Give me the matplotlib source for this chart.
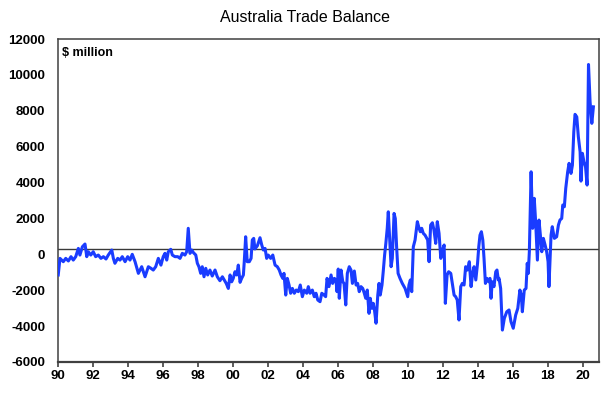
import matplotlib
matplotlib.use("Agg")
import matplotlib.pyplot as plt

# decimal-year time stamps
years = [
 1990.03,1990.13,1990.32,1990.46,1990.61,1990.76,1990.89,1991.03,1991.18,1991.27,1991.41,1991.56,1991.66,1991.75,1991.89,
 1992.03,1992.17,1992.32,1992.47,1992.61,1992.76,1992.89,1993.09,1993.18,1993.27,1993.43,1993.56,1993.69,1993.85,1994.0,
 1994.13,1994.26,1994.42,1994.61,1994.8,1994.99,1995.18,1995.33,1995.46,1995.6,1995.75,1995.9,1996.03,1996.13,1996.23,
 1996.32,1996.46,1996.55,1996.7,1996.86,1996.99,1997.12,1997.27,1997.37,1997.46,1997.56,1997.66,1997.75,1997.89,1997.98,
 1998.07,1998.17,1998.26,1998.36,1998.46,1998.57,1998.7,1998.83,1998.99,1999.12,1999.27,1999.41,1999.52,1999.63,1999.75,
 1999.85,1999.94,2000.03,2000.13,2000.23,2000.32,2000.42,2000.51,2000.61,2000.66,2000.74,2000.83,2000.95,2001.05,2001.12,
 2001.2,2001.27,2001.41,2001.56,2001.66,2001.75,2001.85,2001.94,2002.03,2002.17,2002.29,2002.42,2002.55,2002.66,2002.76,
 2002.86,2002.93,2003.03,2003.12,2003.22,2003.31,2003.41,2003.52,2003.63,2003.75,2003.86,2003.98,2004.09,2004.23,2004.32,
 2004.42,2004.55,2004.66,2004.76,2004.86,2004.99,2005.09,2005.22,2005.31,2005.39,2005.5,2005.62,2005.71,2005.81,2005.9,
 2005.96,2006.03,2006.09,2006.19,2006.29,2006.36,2006.46,2006.55,2006.66,2006.76,2006.84,2006.95,2007.05,2007.14,2007.23,
 2007.33,2007.43,2007.52,2007.6,2007.69,2007.79,2007.86,2007.95,2008.03,2008.1,2008.19,2008.29,2008.36,2008.43,2008.53,
 2008.6,2008.68,2008.75,2008.83,2008.89,2008.97,2009.05,2009.12,2009.22,2009.29,2009.37,2009.45,2009.56,2009.69,2009.85,
 2010.0,2010.07,2010.15,2010.23,2010.32,2010.42,2010.55,2010.65,2010.72,2010.8,2010.89,2010.99,2011.09,2011.14,2011.22,
 2011.31,2011.41,2011.5,2011.6,2011.69,2011.79,2011.89,2011.99,2012.08,2012.15,2012.25,2012.34,2012.46,2012.55,2012.65,
 2012.74,2012.83,2012.93,2013.03,2013.12,2013.22,2013.31,2013.41,2013.52,2013.62,2013.71,2013.79,2013.89,2013.99,2014.06,
 2014.13,2014.21,2014.29,2014.36,2014.44,2014.53,2014.63,2014.7,2014.76,2014.83,2014.93,2015.03,2015.1,2015.18,2015.22,
 2015.31,2015.41,2015.52,2015.66,2015.79,2015.9,2016.03,2016.17,2016.29,2016.41,2016.49,2016.55,2016.66,2016.76,2016.83,
 2016.89,2016.95,2017.05,2017.14,2017.23,2017.31,2017.41,2017.5,2017.58,2017.66,2017.75,2017.85,2017.94,2018.02,2018.07,
 2018.19,2018.26,2018.38,2018.51,2018.61,2018.7,2018.8,2018.86,2018.95,2019.03,2019.14,2019.22,2019.33,2019.41,2019.49,
 2019.56,2019.66,2019.75,2019.85,2019.9,2019.98,2020.07,2020.16,2020.25,2020.33,2020.42,2020.52,2020.61,
]

# trade balance, $ million
balance = [
 -1150,-225,-410,-225,-370,-130,-320,-130,330,-40,420,575,-130,145,-40,
 145,-130,-40,-225,-130,-260,-40,240,-225,-500,-225,-320,-130,-410,-130,
 -320,0,-410,-1060,-690,-1250,-690,-780,-875,-690,-225,-600,-130,55,-320,
 145,280,-40,-130,-130,-225,55,-40,145,1450,55,240,100,-40,-500,
 -690,-1060,-690,-1250,-780,-1150,-875,-1210,-875,-1250,-1470,-1250,-1430,-1620,-1900,
 -1150,-1530,-1340,-970,-1150,-600,-1560,-1340,-1150,-410,980,-410,-410,-225,800,
 890,300,480,925,520,240,330,-225,-40,-225,-40,-600,-690,-875,-1150,
 -1340,-1060,-2270,-1340,-1710,-2170,-1900,-2170,-1990,-2080,-1710,-2360,-1990,-2170,-1800,
 -2170,-1990,-2360,-2170,-2545,-2640,-2170,-2270,-2360,-1340,-1800,-1150,-1620,-1340,-1430,
 -2080,-820,-2450,-875,-1530,-1620,-2820,-1060,-690,-875,-1620,-930,-1710,-1620,-2080,
 -1800,-1900,-2170,-2450,-1990,-3290,-2450,-3010,-2730,-3100,-3840,-2270,-1620,-2270,-1710,
 -970,-40,610,1450,2370,890,-690,-225,2280,2000,330,-1060,-1340,-1620,-1900,
 -2360,-1710,-1430,-2080,420,800,1820,1450,1260,1450,1170,1070,890,800,-410,
 1630,1760,1350,610,1820,1170,-225,240,520,-2730,-1150,-970,-1060,-1620,-2270,
 -2360,-2545,-3660,-1800,-1620,-1710,-690,-875,-410,-1800,-1060,-690,-1430,-500,420,
 1070,1260,800,-225,-1620,-1340,-1530,-1340,-2450,-1530,-1800,-970,-875,-1430,-1340,
 -1900,-4220,-3570,-3200,-3100,-3750,-4120,-3380,-3010,-1990,-2270,-3200,-1990,-1900,-500,
 -1060,145,4600,1450,3120,1820,-320,1910,1070,145,890,520,145,-410,-1800,
 1070,1540,890,980,1630,1910,2000,2750,2650,3680,4600,5070,4510,4970,6830,
 7800,7660,6550,5720,4080,5630,5160,4880,3860,10580,8500,7300,8220,
]

x_ticks = list(range(1990, 2021, 2))
x_tick_labels = ["90", "92", "94", "96", "98", "00", "02", "04", "06", "08",
                 "10", "12", "14", "16", "18", "20"]
y_ticks = list(range(-6000, 12001, 2000))
y_tick_labels = [str(v) for v in y_ticks]

plt.rcParams['font.family'] = ['Liberation Sans', 'DejaVu Sans']

fig = plt.figure(figsize=(6.10, 3.98), dpi=100)
ax = fig.add_axes([57.7/610, 1 - 362/398, (599 - 57.7)/610, (362 - 39)/398])

ax.axhline(270, color='#3a3a3a', linewidth=1.0, zorder=1)
ax.plot(years, balance, color='#1a3cff', linewidth=2.2, zorder=3,
        solid_joinstyle='round')

ax.set_xlim(1990.0, 2020.93)
ax.set_ylim(-6000, 12000)
ax.set_xticks(x_ticks)
ax.set_xticklabels(x_tick_labels, fontsize=9.5, fontweight='bold')
ax.set_yticks(y_ticks)
ax.set_yticklabels(y_tick_labels, fontsize=9.5, fontweight='bold')
ax.tick_params(axis='x', direction='out', length=3.5, width=1.2, color='#404040', pad=2)
ax.tick_params(axis='y', length=0, pad=9)

for s in ax.spines.values():
    s.set_color('#404040')
    s.set_linewidth(1.1)
ax.spines['bottom'].set_linewidth(1.6)

ax.text(0.008, 0.975, "$ million", transform=ax.transAxes, fontsize=9,
        fontweight='bold', va='top', ha='left')
fig.text(0.5, 1 - 17/398, "Australia Trade Balance", fontsize=11.5,
         ha='center', va='center')

fig.savefig("out.png", dpi=100)
